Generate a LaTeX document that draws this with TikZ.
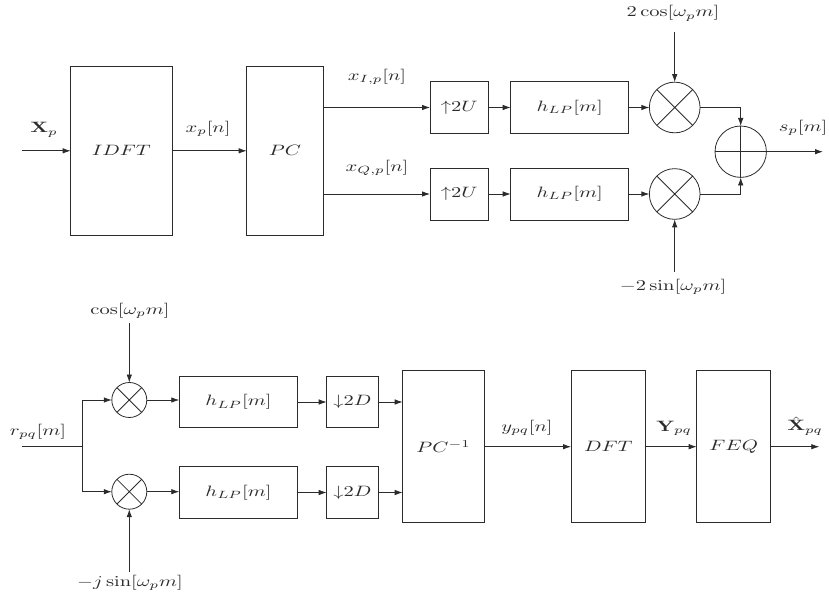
\documentclass[tikz,border=0pt]{standalone}
\usepackage{graphicx}
\usetikzlibrary{arrows.meta}
\definecolor{ink}{HTML}{2B2B2B}
% math labels, widened to the block-diagram lettering
\newcommand{\sx}[1]{\scalebox{2.05}[1.5]{$#1$}}
\begin{document}
\begin{tikzpicture}[x=1pt,y=-1pt,line width=0.8pt,color=ink,
  blk/.style={draw,rectangle,inner sep=0pt,outer sep=0pt},
  mul/.style={draw,circle,inner sep=0pt,outer sep=0pt,minimum size=#1},
  lbl/.style={inner sep=0pt},
  arr/.style={-{Latex[length=8pt,width=5.5pt]}}]
\useasboundingbox (0,0) rectangle (829,604);

% ---------- transmitter ----------
\coordinate (xin) at (21.7,150.8);
\node[blk,minimum width=101.3,minimum height=168.3] (idft) at (121.3,150.8) {\sx{IDFT}};
\node[blk,minimum width=76.7,minimum height=168.3] (pc) at (285,150.8) {\sx{PC}};
\node[blk,minimum width=58.3,minimum height=52] (up1) at (459.2,107.5) {\sx{\mathord{\uparrow}2U}};
\node[blk,minimum width=58.3,minimum height=52] (up2) at (459.2,194) {\sx{\mathord{\uparrow}2U}};
\node[blk,minimum width=118,minimum height=52] (hf1) at (569.7,107.5) {\sx{h_{LP}[m]}};
\node[blk,minimum width=118,minimum height=52] (hf2) at (569.7,194) {\sx{h_{LP}[m]}};
\node[mul=50.7] (m1) at (674.7,107.5) {};
\node[mul=50.7] (m2) at (674.7,194) {};
\node[mul=51.4] (add) at (740.7,151.7) {};
\coordinate (sout) at (823,151.7);
\coordinate (c1) at (674.7,31.7);
\coordinate (c2) at (674.7,271.7);

\draw (m1.north west) -- (m1.south east) (m1.north east) -- (m1.south west);
\draw (m2.north west) -- (m2.south east) (m2.north east) -- (m2.south west);
\draw (add.west) -- (add.east) (add.north) -- (add.south);

\draw[arr] (xin) -- (idft.west);
\draw[arr] (idft.east) -- (pc.west);
\draw[arr] (pc.east |- up1.west) -- (up1.west);
\draw[arr] (pc.east |- up2.west) -- (up2.west);
\draw[arr] (up1.east) -- (hf1.west);
\draw[arr] (up2.east) -- (hf2.west);
\draw[arr] (hf1.east) -- (m1.west);
\draw[arr] (hf2.east) -- (m2.west);
\draw[arr] (c1) -- (m1.north);
\draw[arr] (c2) -- (m2.south);
\draw[arr] (m1.east) -| (add.north);
\draw[arr] (m2.east) -| (add.south);
\draw[arr] (add.east) -- (sout);

\node[lbl] (lxp) at (44,130) {\sx{\mathbf{X}_p}};
\node[lbl] (lxn) at (208,129) {\sx{x_p[n]}};
\node[lbl] (lxi) at (377,77) {\sx{x_{I,p}[n]}};
\node[lbl] (lxq) at (377,168) {\sx{x_{Q,p}[n]}};
\node[lbl] (lcos2) at (673,13.5) {\sx{2\cos[\omega_p m]}};
\node[lbl] (lsin2) at (673,287) {\sx{-2\sin[\omega_p m]}};
\node[lbl] (lsp) at (803,128) {\sx{s_p[m]}};

% ---------- receiver ----------
\coordinate (rin) at (21.7,446.7);
\coordinate (split) at (82.7,446.7);
\node[mul=35] (bm1) at (129.3,400) {};
\node[mul=35] (bm2) at (129.3,491.7) {};
\node[blk,minimum width=118.4,minimum height=50.6] (bh1) at (238.5,402) {\sx{h_{LP}[m]}};
\node[blk,minimum width=118.4,minimum height=51.6] (bh2) at (238.5,492.5) {\sx{h_{LP}[m]}};
\node[blk,minimum width=51.6,minimum height=50.6] (dn1) at (352.5,402) {\sx{\mathord{\downarrow}2D}};
\node[blk,minimum width=51.6,minimum height=51.6] (dn2) at (352.5,492.5) {\sx{\mathord{\downarrow}2D}};
\node[blk,minimum width=81.6,minimum height=152] (ipc) at (443.5,446.7) {\sx{PC^{-1}}};
\node[blk,minimum width=74.3,minimum height=152] (dft) at (608.2,446.7) {\sx{DFT}};
\node[blk,minimum width=74,minimum height=152] (feq) at (733.7,446.7) {\sx{FEQ}};
\coordinate (xout) at (819.3,446.7);
\coordinate (d1) at (129.3,323);
\coordinate (d2) at (129.3,571.7);

\draw (bm1.north west) -- (bm1.south east) (bm1.north east) -- (bm1.south west);
\draw (bm2.north west) -- (bm2.south east) (bm2.north east) -- (bm2.south west);

\draw (rin) -- (split);
\draw[arr] (split) |- (bm1.west);
\draw[arr] (split) |- (bm2.west);
\draw[arr] (d1) -- (bm1.north);
\draw[arr] (d2) -- (bm2.south);
\draw[arr] (bm1.east) -- (bm1.east -| bh1.west);
\draw[arr] (bm2.east) -- (bm2.east -| bh2.west);
\draw[arr] (bh1.east) -- (dn1.west);
\draw[arr] (bh2.east) -- (dn2.west);
\draw[arr] (dn1.east) -- (dn1.east -| ipc.west);
\draw[arr] (dn2.east) -- (dn2.east -| ipc.west);
\draw[arr] (ipc.east) -- (dft.west);
\draw[arr] (dft.east) -- (feq.west);
\draw[arr] (feq.east) -- (xout);

\node[lbl] (lcos) at (130,311) {\sx{\cos[\omega_p m]}};
\node[lbl] (lsin) at (130,583) {\sx{-j\sin[\omega_p m]}};
\node[lbl] (lr) at (38,432) {\sx{r_{pq}[m]}};
\node[lbl] (ly) at (527,428) {\sx{y_{pq}[n]}};
\node[lbl] (lY) at (674,428) {\sx{\mathbf{Y}_{pq}}};
\node[lbl] (lX) at (805,426) {\sx{\hat{\mathbf{X}}_{pq}}};
\end{tikzpicture}
\end{document}
